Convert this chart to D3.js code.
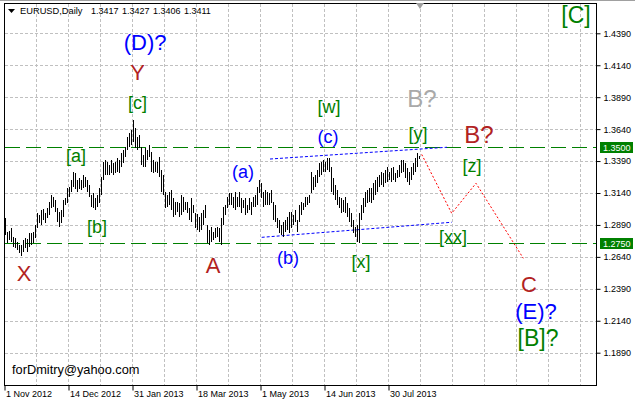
<!DOCTYPE html>
<html><head><meta charset="utf-8">
<script src="https://cdn.jsdelivr.net/npm/d3@7"></script>
<style>
html,body{margin:0;padding:0;background:#fff;}
svg{display:block;font-family:"Liberation Sans",Arial,sans-serif;}
</style></head><body>
<svg id="c" width="635" height="404"></svg>
<script>
// ---------- DATA ----------
const highs = [1.2944,1.2835,1.2843,1.2866,1.2796,1.2788,1.2756,1.2733,1.2733,1.2772,
1.2788,1.2780,1.2827,1.2827,1.2835,1.2889,1.2983,1.2968,1.3007,1.3015,
1.2983,1.3023,1.3070,1.3124,1.3109,1.3085,1.3023,1.2991,1.3007,1.3085,
1.3101,1.3179,1.3187,1.3242,1.3304,1.3297,1.3242,1.3257,1.3242,1.3281,
1.3265,1.3242,1.3203,1.3124,1.3140,1.3101,1.3124,1.3179,1.3265,1.3383,
1.3398,1.3383,1.3359,1.3398,1.3375,1.3383,1.3414,1.3398,1.3453,1.3477,
1.3500,1.3579,1.3610,1.3633,1.3711,1.3649,1.3579,1.3594,1.3500,1.3438,
1.3492,1.3477,1.3516,1.3461,1.3398,1.3383,1.3383,1.3422,1.3320,1.3281,
1.3148,1.3124,1.3148,1.3163,1.3101,1.3070,1.3070,1.3062,1.3124,1.3109,
1.3070,1.3070,1.3023,1.3101,1.3046,1.2983,1.2976,1.2952,1.2983,1.3007,
1.3046,1.2889,1.2850,1.2874,1.2835,1.2866,1.2874,1.2866,1.2944,1.3030,
1.3046,1.3109,1.3140,1.3140,1.3109,1.3148,1.3109,1.3148,1.3101,1.3085,
1.3101,1.3046,1.3101,1.3070,1.3109,1.3124,1.3187,1.3242,1.3218,1.3148,
1.3163,1.3148,1.3140,1.3163,1.3070,1.3046,1.2944,1.2929,1.2889,1.2913,
1.2929,1.2952,1.2991,1.2991,1.2968,1.3007,1.2929,1.3046,1.3070,1.3062,
1.3109,1.3109,1.3124,1.3304,1.3265,1.3281,1.3320,1.3375,1.3383,1.3398,
1.3383,1.3414,1.3414,1.3344,1.3257,1.3203,1.3163,1.3109,1.3101,1.3085,
1.3109,1.3062,1.3023,1.2983,1.2929,1.2874,1.2889,1.2983,1.3046,1.3101,
1.3148,1.3163,1.3179,1.3179,1.3218,1.3242,1.3265,1.3281,1.3304,1.3297,
1.3320,1.3344,1.3304,1.3336,1.3344,1.3297,1.3320,1.3359,1.3398,1.3398,
1.3375,1.3336,1.3304,1.3344,1.3375,1.3414,1.3453,1.3427];
const lows = [1.2811,1.2749,1.2772,1.2756,1.2717,1.2709,1.2694,1.2670,1.2647,1.2678,
1.2709,1.2678,1.2717,1.2733,1.2749,1.2788,1.2866,1.2905,1.2889,1.2929,
1.2905,1.2944,1.2968,1.3023,1.3030,1.2991,1.2913,1.2874,1.2905,1.2952,
1.3046,1.3062,1.3109,1.3148,1.3187,1.3171,1.3148,1.3171,1.3163,1.3179,
1.3187,1.3148,1.3109,1.3030,1.3023,1.3007,1.3030,1.3062,1.3124,1.3242,
1.3281,1.3281,1.3281,1.3297,1.3281,1.3297,1.3304,1.3297,1.3344,1.3375,
1.3422,1.3477,1.3500,1.3516,1.3540,1.3492,1.3477,1.3492,1.3359,1.3344,
1.3344,1.3398,1.3422,1.3304,1.3297,1.3304,1.3297,1.3265,1.3148,1.3124,
1.3023,1.3030,1.3046,1.3007,1.2952,1.2968,1.2991,1.2952,1.2968,1.2991,
1.3007,1.2983,1.2929,1.2913,1.2983,1.2866,1.2850,1.2835,1.2850,1.2889,
1.2944,1.2749,1.2733,1.2756,1.2772,1.2788,1.2796,1.2756,1.2733,1.2889,
1.2968,1.3023,1.3046,1.3046,1.3023,1.3007,1.3030,1.3030,1.2983,1.3023,
1.2968,1.2983,1.3007,1.2968,1.3030,1.3030,1.3046,1.3140,1.3101,1.3030,
1.3046,1.3046,1.3046,1.3062,1.2929,1.2913,1.2866,1.2827,1.2811,1.2796,
1.2835,1.2850,1.2827,1.2866,1.2889,1.2913,1.2835,1.2913,1.2968,1.3007,
1.3030,1.3046,1.3062,1.3140,1.3163,1.3187,1.3218,1.3265,1.3281,1.3304,
1.3304,1.3320,1.3304,1.3148,1.3124,1.3085,1.3046,1.3023,1.2983,1.2991,
1.2983,1.2952,1.2913,1.2874,1.2827,1.2796,1.2756,1.2749,1.2929,1.2983,
1.3030,1.3062,1.3070,1.3062,1.3085,1.3124,1.3148,1.3187,1.3203,1.3187,
1.3218,1.3226,1.3242,1.3226,1.3242,1.3226,1.3257,1.3265,1.3297,1.3304,
1.3257,1.3226,1.3203,1.3242,1.3281,1.3304,1.3344,1.3406];

const dateLabels = ["1 Nov 2012","14 Dec 2012","31 Jan 2013","18 Mar 2013","1 May 2013","14 Jun 2013","30 Jul 2013"];
const dateIdx = [0,32,64,96,128,160,192];
const priceTicks = [1.4390,1.4140,1.3890,1.3640,1.3390,1.3140,1.2890,1.2640,1.2390,1.2140,1.1890];
const levels = [1.3500,1.2750];
const headerSymbol = "EURUSD,Daily";
const headerOHLC = [1.3417,1.3427,1.3406,1.3411];
const channelUpper = [[132.25,1.3406],[220.75,1.3498]];
const channelLower = [[128.1,1.2793],[223.1,1.2911]];
const forecastPath = [[208.1,1.3442],[223.1,1.2981],[235.25,1.3216],[258.9,1.2629]];
// wave labels: [text, bar index, price(baseline), kind]
const waveLabels = [
 ["(D)?",69.8,1.4259,"blueBig"],
 ["Y",66,1.4024,"red"],
 ["[c]",66,1.3797,"green"],
 ["[a]",35.25,1.3385,"green"],
 ["[b]",45.75,1.2827,"green"],
 ["X",9.25,1.2451,"red"],
 ["A",103.75,1.2514,"red"],
 ["(a)",118.75,1.3257,"blue"],
 ["(b)",141.25,1.2584,"blue"],
 ["(c)",161.25,1.3531,"blue"],
 ["[w]",161.75,1.3766,"green"],
 ["[x]",177.75,1.2553,"green"],
 ["[y]",206.25,1.3555,"green"],
 ["B?",208.25,1.3813,"grey"],
 ["B?",236.75,1.3529,"redBig"],
 ["[z]",233.25,1.3307,"green"],
 ["[xx]",223.75,1.2751,"green"],
 ["C",261.75,1.2367,"red"],
 ["(E)?",265.25,1.2151,"blueBig"],
 ["[B]?",266.25,1.1942,"greenBig"],
 ["[C]",285.25,1.4468,"greenBig"]
];
const signature = "forDmitry@yahoo.com";

// ---------- STYLES ----------
const styles = {
  green:{fill:"#008000",size:18},
  greenBig:{fill:"#008000",size:23},
  blue:{fill:"#0000ff",size:18},
  blueBig:{fill:"#0000ff",size:22},
  red:{fill:"#b22222",size:22},
  redBig:{fill:"#b22222",size:24},
  grey:{fill:"#a9a9a9",size:24}
};

// ---------- CHART ----------
const svg = d3.select("#c");
const L=4.5, R=596.5, T=3.5, B=385.5;
const x = d3.scaleLinear().domain([0,32]).range([4.5,68.5]);
const y = d3.scaleLinear().domain([1.1890,1.4390]).range([352.7,33.3]);
const bx = i => x(i)+1;
const cy = v => Math.round(y(v))+0.5;

svg.append("rect").attr("width",635).attr("height",404).attr("fill","#fff");
svg.append("line").attr("x1",0).attr("x2",635).attr("y1",0.5).attr("y2",0.5).attr("stroke","#a0a0a0");

// grid
const grid = svg.append("g").attr("stroke","#c0c0c0").attr("stroke-dasharray","3,2").attr("shape-rendering","crispEdges");
grid.selectAll(".h").data(priceTicks).join("line")
  .attr("x1",L).attr("x2",R).attr("y1",d=>cy(d)).attr("y2",d=>cy(d));
const vIdx = d3.range(16,296,16);
grid.selectAll(".v").data(vIdx).join("line")
  .attr("x1",d=>x(d)).attr("x2",d=>x(d)).attr("y1",T).attr("y2",B);

// horizontal levels
svg.append("g").selectAll("line").data(levels).join("line")
  .attr("x1",L).attr("x2",R).attr("y1",d=>cy(d)).attr("y2",d=>cy(d))
  .attr("stroke","#008000").attr("stroke-dasharray","15,6").attr("shape-rendering","crispEdges");

// channel (blue dotted)
const line = d3.line().x(d=>bx(d[0])).y(d=>y(d[1]));
[channelUpper,channelLower].forEach(c=>{
  svg.append("path").attr("d",line(c)).attr("fill","none").attr("stroke","#0000ff")
    .attr("stroke-width",1).attr("stroke-dasharray","3,2");
});

// bars
svg.append("g").attr("shape-rendering","crispEdges").selectAll("line").data(highs).join("line")
  .attr("x1",(d,i)=>bx(i)).attr("x2",(d,i)=>bx(i))
  .attr("y1",d=>y(d)).attr("y2",(d,i)=>Math.max(y(lows[i]),y(d)+1))
  .attr("stroke","#000").attr("stroke-width",1);

// forecast path (red dotted)
svg.append("path").attr("d",line(forecastPath)).attr("fill","none").attr("stroke","#ff0000")
  .attr("stroke-width",1).attr("stroke-dasharray","2,2");

// wave labels
svg.append("g").selectAll("text").data(waveLabels).join("text")
  .attr("x",d=>bx(d[1])).attr("y",d=>y(d[2]))
  .attr("text-anchor","middle")
  .attr("font-size",d=>styles[d[3]].size)
  .attr("fill",d=>styles[d[3]].fill)
  .text(d=>d[0]);

// frame
svg.append("rect").attr("x",L).attr("y",T).attr("width",R-L).attr("height",B-T)
  .attr("fill","none").attr("stroke","#000").attr("shape-rendering","crispEdges");

// price axis
const ya = svg.append("g").attr("transform",`translate(${R},0)`)
  .call(d3.axisRight(y).tickValues(priceTicks).tickSize(4).tickFormat(d3.format(".4f")));
ya.select(".domain").remove();
ya.selectAll("text").attr("font-size",9).attr("font-family","Liberation Sans, Arial, sans-serif").attr("fill","#000");
ya.selectAll("line").attr("stroke","#000");

// level labels
const lv = svg.append("g").selectAll("g").data(levels).join("g")
  .attr("transform",d=>`translate(600,${cy(d)})`);
lv.append("rect").attr("x",0).attr("y",-5.5).attr("width",33).attr("height",11).attr("fill","#008000");
lv.append("text").attr("x",3).attr("dy","0.34em").attr("font-size",9).attr("fill","#fff").text(d=>d.toFixed(4));

// date axis
const xa = svg.append("g").attr("transform",`translate(0,${B})`)
  .call(d3.axisBottom(x).tickValues(dateIdx).tickSize(5).tickFormat((d,i)=>dateLabels[i]));
xa.select(".domain").remove();
xa.selectAll("text").attr("font-size",9).attr("font-family","Liberation Sans, Arial, sans-serif")
  .attr("text-anchor","start").attr("x",1).attr("y",5).attr("dy","0.71em").attr("fill","#000");
xa.selectAll("line").attr("stroke","#000");

// header
svg.append("path").attr("d","M8,9 L15,9 L11.5,13 Z").attr("fill","#000");
svg.append("text").attr("x",20).attr("y",14).attr("font-size",9.3).attr("fill","#000").text(headerSymbol);
svg.append("g").selectAll("text").data(headerOHLC).join("text")
  .attr("x",(d,i)=>91+31*i).attr("y",14).attr("font-size",9).attr("fill","#000").text(d=>d.toFixed(4));

// chart shift marker
svg.append("path").attr("d","M416,3 L424,3 L420,9 Z").attr("fill","#a0a0a0");

// signature
svg.append("text").attr("x",12).attr("y",374).attr("font-size",12.8).attr("fill","#000").text(signature);
</script>
</body></html>
